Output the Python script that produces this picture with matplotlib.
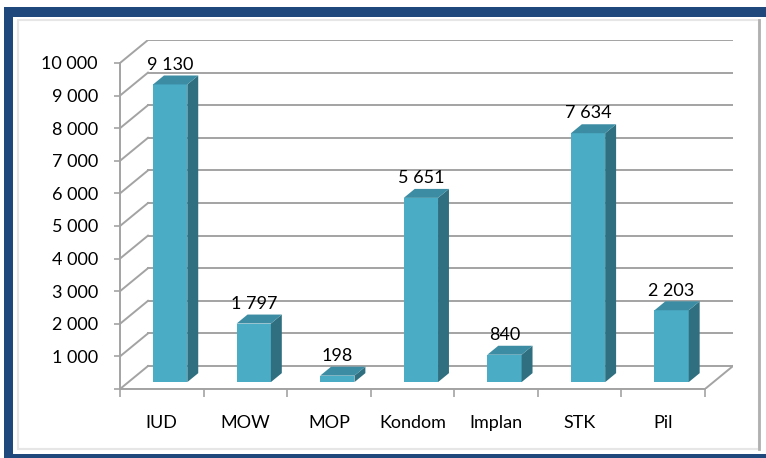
import matplotlib
matplotlib.use('Agg')
import matplotlib.pyplot as plt
from matplotlib.patches import Rectangle

# ── 数据 ──
categories = ['IUD', 'MOW', 'MOP', 'Kondom', 'Implan', 'STK', 'Pil']
values = [9130, 1797, 198, 5651, 840, 7634, 2203]
y_ticks = [0, 1000, 2000, 3000, 4000, 5000, 6000, 7000, 8000, 9000, 10000]

# ── 样式 ──
FRONT = '#4BACC6'
SIDE = '#2F6F80'
TOP = '#3C8DA3'
GRID = '#A3A3A3'
FRAME = '#1F497D'
plt.rcParams['font.family'] = ['Lato', 'DejaVu Sans']
FS = 13

W, H = 766, 458
fig = plt.figure(figsize=(W / 100, H / 100), dpi=100)

# 外框（蓝色边框），放在坐标轴下面
def px_rect(x0, y0, x1, y1, **kw):
    fig.patches.append(Rectangle((x0 / W, 1 - y1 / H), (x1 - x0) / W, (y1 - y0) / H,
                                 transform=fig.transFigure, zorder=-10, **kw))

px_rect(4, 7, W + 5, H + 5, facecolor=FRAME, edgecolor='none')
px_rect(13, 17, W + 5, 454, facecolor='white', edgecolor='none')
px_rect(18, 20, 759, 449, facecolor='none', edgecolor='#E6E6E6', lw=1.5)
fig.lines.append(plt.Line2D([759 / W, 759 / W], [1 - 20 / H, 1 - 449 / H],
                            transform=fig.transFigure, color='#B0B0B0', lw=2, zorder=-9))

# 3D 深度偏移（数据单位）
DX = 0.335
DY = 705
ymax = max(y_ticks)
n = len(categories)

ax = fig.add_axes([120 / W, 1 - 389 / H, (733 - 120) / W, (389 - 40) / H])
ax.set_xlim(0, n + DX)
ax.set_ylim(0, ymax + DY)
ax.patch.set_alpha(0)

# 背墙网格与左墙斜线
for v in y_ticks:
    ax.plot([DX, n + DX], [v + DY, v + DY], color=GRID, lw=1.4, zorder=1)
    ax.plot([0, DX], [v, v + DY], color=GRID, lw=1.4, zorder=1)
# 地面
ax.plot([0, n], [0, 0], color=GRID, lw=1.4, zorder=1)
ax.plot([n, n + DX], [0, DY], color=GRID, lw=1.4, zorder=1)

# 坐标轴
for s in ['top', 'right']:
    ax.spines[s].set_visible(False)
ax.spines['left'].set_bounds(0, ymax)
ax.spines['bottom'].set_bounds(0, n)
ax.spines['left'].set_color(GRID)
ax.spines['bottom'].set_color(GRID)
ax.spines['left'].set_linewidth(1.4)
ax.spines['bottom'].set_linewidth(1.4)
ax.set_yticks(y_ticks)
ax.set_yticklabels([''] + [f'{v:,}'.replace(',', ' ') for v in y_ticks[1:]])
ax.tick_params(axis='y', length=4, width=1.2, color=GRID, pad=12, labelsize=FS)
ax.set_xticks(range(n + 1))
ax.set_xticklabels([''] * (n + 1))
ax.tick_params(axis='x', length=6, width=1.2, color=GRID)
ax.set_xticks([i + 0.5 for i in range(n)], minor=True)
ax.set_xticklabels(categories, minor=True)
ax.tick_params(axis='x', which='minor', length=0, pad=19, labelsize=FS)

# 柱体
hw = 0.205
z0, z1 = 0.3, 0.69
d = z1 - z0
for i, v in enumerate(values):
    c = i + 0.5
    x0 = c - hw + z0 * DX
    x1 = c + hw + z0 * DX
    b = z0 * DY
    t = v + z0 * DY
    ax.fill([x0, x1, x1, x0], [b, b, t, t], color=FRONT, lw=0, zorder=3)
    ax.fill([x1, x1 + d * DX, x1 + d * DX, x1], [b, b + d * DY, t + d * DY, t],
            color=SIDE, lw=0, zorder=3)
    ax.fill([x0, x1, x1 + d * DX, x0 + d * DX], [t, t, t + d * DY, t + d * DY],
            color=TOP, lw=0, zorder=3)
    ax.annotate(f'{v:,}'.replace(',', ' '), ((x0 + x1) / 2, t + d * DY),
                xytext=(0, 2), textcoords='offset points',
                ha='center', va='bottom', fontsize=FS, zorder=4)

fig.savefig('out.png', dpi=100)
